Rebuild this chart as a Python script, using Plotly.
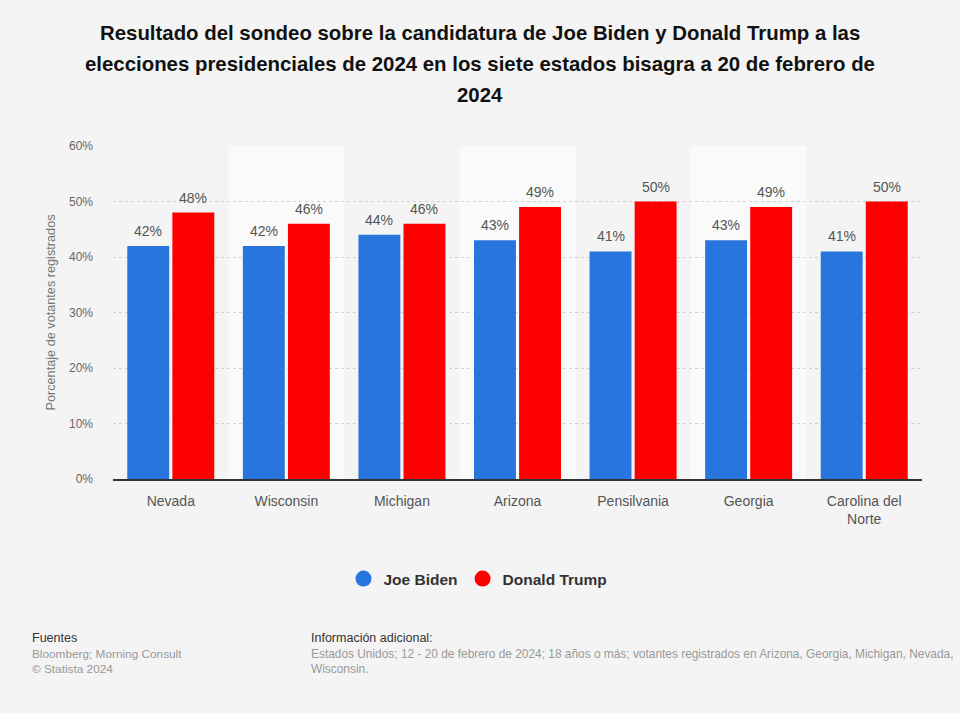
import plotly.graph_objects as go

states = ["Nevada", "Wisconsin", "Michigan", "Arizona", "Pensilvania", "Georgia", "Carolina del<br>Norte"]
biden = [42, 42, 44, 43, 41, 43, 41]
trump = [48, 46, 46, 49, 50, 49, 50]
y_ticks = [0, 10, 20, 30, 40, 50, 60]
y_tick_labels = ["0%", "10%", "20%", "30%", "40%", "50%", "60%"]
title_lines = [
    "Resultado del sondeo sobre la candidatura de Joe Biden y Donald Trump a las",
    "elecciones presidenciales de 2024 en los siete estados bisagra a 20 de febrero de",
    "2024",
]

BLUE = "#2876dd"
RED = "#ff0000"
FONT = "Liberation Sans, Arial, sans-serif"

W, H = 960, 713
L, R, T, B = 113, 38, 146, 234
PW, PH = W - L - R, H - T - B

def px(x):
    return (x - L) / PW

def py(y):
    return 1 - (y - T) / PH

BARGAP, GROUPGAP = 0.22, 0.07

fig = go.Figure()
series = [("Joe Biden", biden, BLUE), ("Donald Trump", trump, RED)]
for name, vals, col in series:
    fig.add_trace(go.Bar(x=states, y=vals, name=name, marker=dict(color=col, line=dict(width=0)),
                         showlegend=False))
# legend entries with circle markers
for name, _, col in series:
    fig.add_trace(go.Scatter(x=[None], y=[None], mode="markers", name=name,
                             marker=dict(symbol="circle", size=17, color=col)))

# value labels above bars
cat_w = PW / len(states)
slot = cat_w * (1 - BARGAP) / len(series)
for k, (name, vals, col) in enumerate(series):
    shift = (k - (len(series) - 1) / 2) * slot
    for s, v in zip(states, vals):
        fig.add_annotation(x=s, y=v, xref="x", yref="y", text=f"{v}%", showarrow=False,
                           xanchor="center", yanchor="bottom", xshift=shift, yshift=5,
                           font=dict(size=14, color="#555555", family=FONT))

shapes = []
for i in range(len(states)):
    if i % 2 == 1:
        shapes.append(dict(type="rect", xref="x", yref="paper", x0=i - 0.5, x1=i + 0.5, y0=0, y1=1,
                           fillcolor="#fafafa", line=dict(width=0), layer="below"))

fig.update_layout(
    width=W, height=H,
    paper_bgcolor="#f4f4f4", plot_bgcolor="#f4f4f4",
    margin=dict(l=L, r=R, t=T, b=B),
    font=dict(family=FONT),
    barmode="group", bargap=BARGAP, bargroupgap=GROUPGAP,
    shapes=shapes,
    showlegend=True,
    legend=dict(orientation="h", x=px(478), xanchor="center", y=py(579), yanchor="middle",
                font=dict(size=15.5, color="#333333", family=FONT, weight="bold"),
                bgcolor="rgba(0,0,0,0)"),
    xaxis=dict(tickfont=dict(size=14, color="#555555"), showgrid=False, ticks="",
               ticklabelstandoff=8,
               showline=True, linecolor="#333333", linewidth=2, fixedrange=True),
    yaxis=dict(range=[0, 60], tickvals=y_ticks, ticktext=y_tick_labels,
               tickfont=dict(size=12, color="#666666"), showgrid=True, gridcolor="#d2d2d2",
               griddash="dot", gridwidth=1, zeroline=False, ticks="", ticklen=0,
               ticklabelstandoff=19,
               title=dict(text="Porcentaje de votantes registrados", font=dict(size=12.7, color="#777777"),
                          standoff=10)),
)

for i, line in enumerate(title_lines):
    fig.add_annotation(text=line, xref="paper", yref="paper", x=px(480), y=py(33 + 31 * i),
                       xanchor="center", yanchor="middle", showarrow=False,
                       font=dict(size=20.4, color="#111111", family=FONT, weight="bold"))

ann = [
    dict(text="Fuentes", x=30, y=638, size=12.5, color="#333333"),
    dict(text="Bloomberg; Morning Consult", x=30, y=654, size=11.8, color="#999999"),
    dict(text="© Statista 2024", x=30, y=669, size=11.8, color="#999999"),
    dict(text="Información adicional:", x=309, y=638, size=12.5, color="#333333"),
    dict(text="Estados Unidos; 12 - 20 de febrero de 2024; 18 años o más; votantes registrados en Arizona, Georgia, Michigan, Nevada,",
         x=309, y=654, size=11.9, color="#999999"),
    dict(text="Wisconsin.", x=309, y=669, size=11.9, color="#999999"),
]
for a in ann:
    fig.add_annotation(text=a["text"], xref="paper", yref="paper",
                       x=px(a["x"]), y=py(a["y"]),
                       xanchor="left", yanchor="middle", showarrow=False,
                       font=dict(size=a["size"], color=a["color"], family=FONT))

fig.write_html("out.html", config={"displayModeBar": False},
               post_script="document.body.style.margin='0';document.body.style.overflow='hidden';")
